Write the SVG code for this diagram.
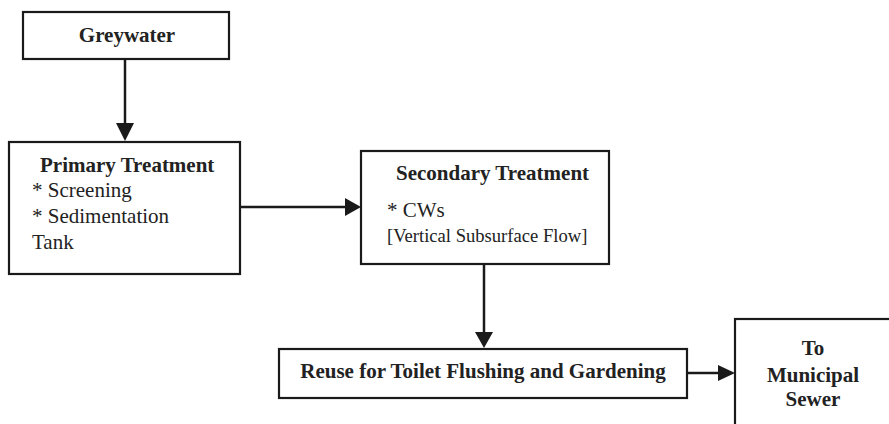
<svg xmlns="http://www.w3.org/2000/svg" width="889" height="424" viewBox="0 0 889 424">
<defs>
<style>
.box{fill:#fff;stroke:#1a1a1a;stroke-width:2.2}
.b{font-family:"Liberation Serif","Times New Roman",serif;font-weight:bold;font-size:21px;fill:#222}
.r{font-family:"Liberation Serif","Times New Roman",serif;font-size:21px;fill:#222}
.s{font-family:"Liberation Serif","Times New Roman",serif;font-size:18.6px;fill:#222}
.c{stroke:#1a1a1a;stroke-width:2.5;fill:none}
.h{fill:#1a1a1a}
</style>
</defs>
<rect width="889" height="424" fill="#fff"/>
<g id="greywater">
<rect class="box" x="23" y="12" width="206" height="47"/>
<text class="b" x="127" y="42" text-anchor="middle">Greywater</text>
</g>
<g id="primary">
<rect class="box" x="9" y="142" width="231" height="132"/>
<text class="b" x="40" y="172">Primary Treatment</text>
<text class="r" x="32" y="197">* Screening</text>
<text class="r" x="32" y="223">* Sedimentation</text>
<text class="r" x="32" y="249">Tank</text>
</g>
<g id="secondary">
<rect class="box" x="361" y="151" width="248" height="113"/>
<text class="b" x="396" y="180">Secondary Treatment</text>
<text class="r" x="387" y="217">* CWs</text>
<text class="s" x="387" y="242">[Vertical Subsurface Flow]</text>
</g>
<g id="reuse">
<rect class="box" x="279" y="349" width="408" height="49"/>
<text class="b" x="483" y="378" text-anchor="middle">Reuse for Toilet Flushing and Gardening</text>
</g>
<g id="sewer">
<rect class="box" x="735" y="319" width="170" height="130"/>
<text class="b" x="813" y="355" text-anchor="middle">To</text>
<text class="b" x="813" y="382" text-anchor="middle">Municipal</text>
<text class="b" x="813" y="406" text-anchor="middle">Sewer</text>
</g>
<g id="connectors">
<line class="c" x1="125" y1="59" x2="125" y2="124"/>
<polygon class="h" points="116,123 134,123 125,141"/>
<line class="c" x1="240" y1="207" x2="346" y2="207"/>
<polygon class="h" points="345,198 345,216 361,207"/>
<line class="c" x1="484" y1="264" x2="484" y2="333"/>
<polygon class="h" points="475,332 493,332 484,348"/>
<line class="c" x1="687" y1="373" x2="719" y2="373"/>
<polygon class="h" points="718,365 718,381 735,373"/>
</g>
</svg>
